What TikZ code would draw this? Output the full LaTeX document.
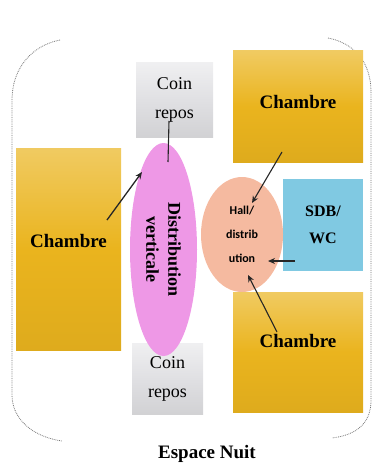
\documentclass[tikz,border=0pt]{standalone}
\usepackage{fontspec}
\setmainfont{Liberation Serif}
\newfontfamily\hallfont{Carlito}
\usepackage{xcolor}
\usetikzlibrary{calc,arrows.meta,positioning,shapes.geometric}

\definecolor{chambreY}{RGB}{234,180,30}
\definecolor{coinG}{RGB}{224,224,227}
\definecolor{sdbB}{RGB}{128,201,226}
\definecolor{distP}{RGB}{238,152,230}
\definecolor{hallS}{RGB}{245,186,160}

\tikzset{
    piece/.style={draw=none, inner sep=0pt, align=center, font=\bfseries\fontsize{19}{24}\selectfont},
    chambre/.style={piece, top color=chambreY!70!white, bottom color=chambreY!95!black, middle color=chambreY},
    coin/.style={piece, font=\fontsize{18}{29}\selectfont, top color=coinG!50!white, bottom color=coinG!85!gray, middle color=coinG},
    lien/.style={black!85, line width=1.1pt, -{Stealth[length=7pt,width=6pt]}}
}

\begin{document}
\begin{tikzpicture}[x=1pt,y=-1pt]
    \useasboundingbox (0,0) rectangle (373,468);

    % dotted outline
    \draw[black!55, densely dotted, line width=0.8pt]
        (60,40) .. controls (30,46) and (12,70) .. (12,100) -- (12,395)
        .. controls (12,420) and (34,437) .. (62,441);
    \draw[black!55, densely dotted, line width=0.8pt]
        (328,38) .. controls (354,43) and (371,62) .. (371,92) -- (371,400)
        .. controls (371,424) and (356,435) .. (332,438);

    \node[chambre, minimum width=105pt, minimum height=202pt, text depth=16pt] (chL) at (68.5,249) {Chambre};
    \node[chambre, minimum width=130pt, minimum height=111pt, text depth=10pt] (chT) at (298,106.5) {Chambre};
    \node[chambre, minimum width=130pt, minimum height=120pt, text depth=22pt] (chB) at (298,352) {Chambre};

    \node[coin, minimum width=77pt, minimum height=74pt] (coinT) at (174.5,100) {Coin\\repos};
    \node[coin, minimum width=71pt, minimum height=71pt] (coinB) at (167.5,378.5) {Coin\\repos};

    \node[piece, font=\bfseries\fontsize{16}{27}\selectfont, fill=sdbB,
          minimum width=80pt, minimum height=92pt] (sdb) at (323,225) {SDB/\\WC};

    \node[ellipse, piece, fill=distP, rotate=-90, font=\bfseries\fontsize{18}{22}\selectfont,
          minimum width=213pt, minimum height=67pt] (distV) at (163.5,249.5) {Distribution\\verticale};
    \node[ellipse, piece, fill=hallS, font=\hallfont\bfseries\fontsize{12}{24}\selectfont,
          minimum width=82pt, minimum height=115pt] (hall) at (242,234.5) {Hall/\\distrib\\ution};

    \node[font=\bfseries\fontsize{19}{24}\selectfont] (titre) at (207,454) {Espace Nuit};

    % arrow ends
    \coordinate (c1) at (169,121);
    \coordinate (d1) at (168,162);
    \coordinate (c2) at (107,220);
    \coordinate (d2) at (142,172);
    \coordinate (c3) at (282,152);
    \coordinate (d3) at (252,203);
    \coordinate (c4) at (295,261);
    \coordinate (d4) at (268,261);
    \coordinate (c5) at (277,332);
    \coordinate (d5) at (248,275);

    \draw[black!85, line width=1.1pt] (c1) -- (d1);
    \draw[lien, line width=1.3pt] (c2) -- (d2);
    \draw[lien] (c3) -- (d3);
    \draw[lien] (c4) -- (d4);
    \draw[lien] (c5) -- (d5);
\end{tikzpicture}
\end{document}
